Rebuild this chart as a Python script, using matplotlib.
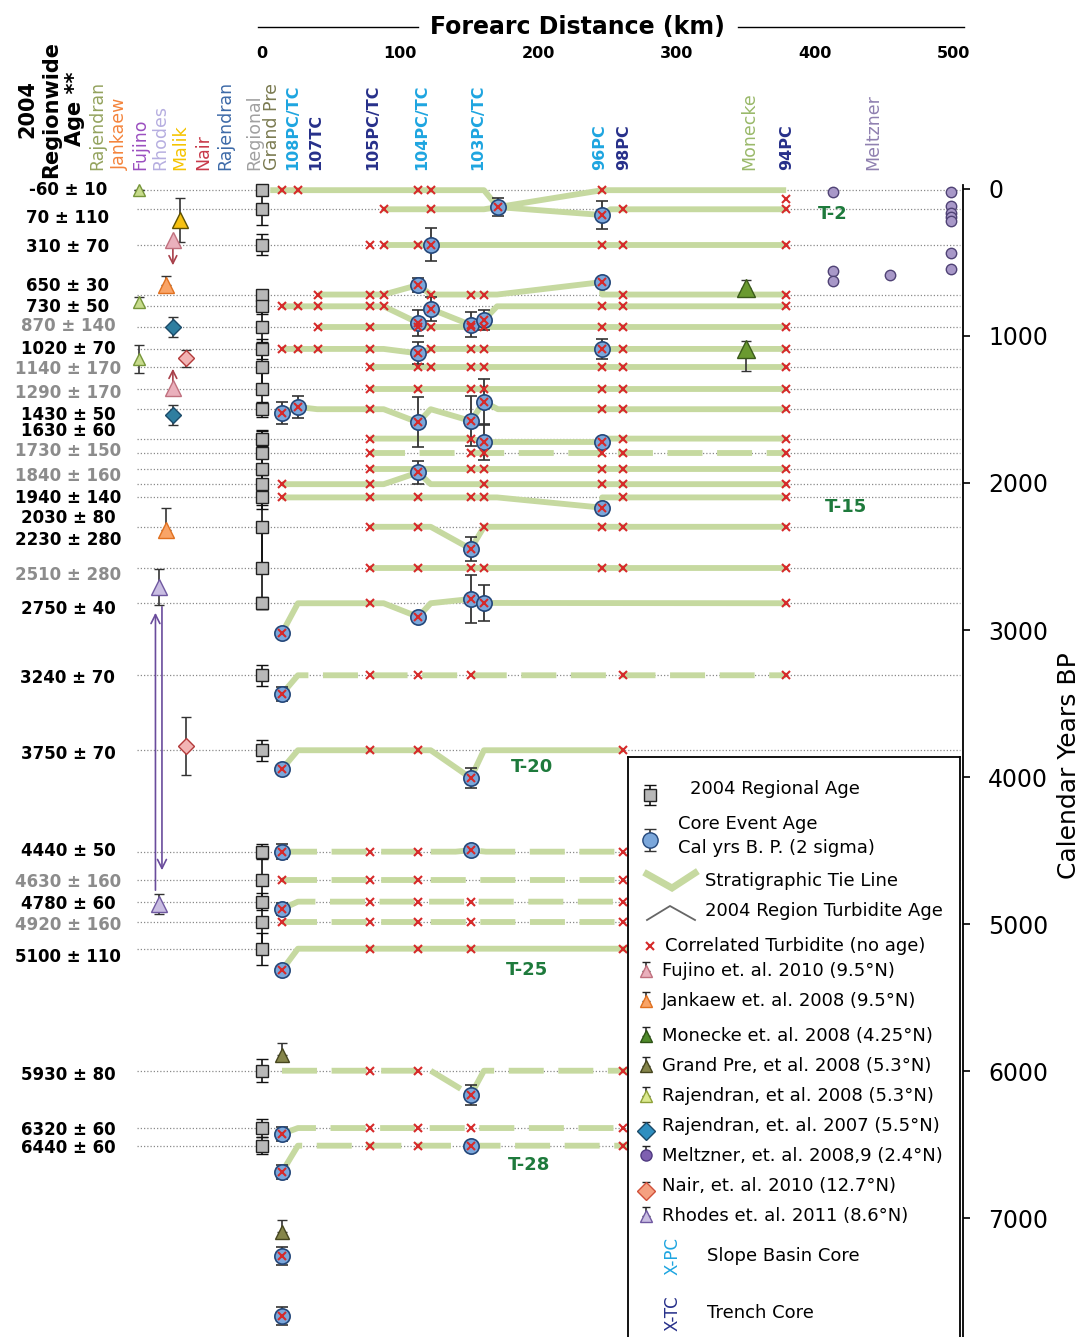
import numpy as np
import matplotlib.pyplot as plt

# 2004 regionwide ages (cal yrs BP) with their +/- values
row_age = [-60, 70, 310, 650, 730, 870, 1020, 1140, 1290, 1430, 1630, 1730, 1840, 1940,
           2030, 2230, 2510, 2750, 3240, 3750, 4440, 4630, 4780, 4920, 5100, 5930, 6320, 6440]
row_err = [10, 110, 70, 30, 50, 140, 70, 170, 170, 50, 60, 150, 160, 140,
           80, 280, 280, 40, 70, 70, 50, 160, 60, 160, 110, 80, 60, 60]
row_gray = [870, 1140, 1290, 1730, 1840, 2510, 4630, 4920]
# where each age label sits (spread out where rows are crowded)
label_age = [-61, 129, 327, 592, 735, 864, 1020, 1156, 1320, 1469, 1578, 1714, 1884, 2034,
             2170, 2320, 2558, 2789, 3259, 3776, 4435, 4646, 4796, 4939, 5156, 5959, 6333, 6456]

# correlated turbidites with no age: row -> core distances (km)
no_age = {
    -60: [14.5, 26, 113, 122, 246],
    70: [88, 122, 261, 379],
    310: [78, 88, 113, 246, 261, 379],
    650: [40.5, 78, 88, 122, 151, 160.5, 261, 379],
    730: [14.5, 26, 40.5, 78, 88, 246, 261, 379],
    870: [40.5, 78, 113, 122, 151, 160.5, 246, 261, 379],
    1020: [14.5, 26, 40.5, 78, 122, 151, 160.5, 261, 379],
    1140: [78, 113, 122, 151, 160.5, 246, 261, 379],
    1290: [78, 113, 151, 160.5, 246, 261, 379],
    1430: [78, 246, 261, 379],
    1630: [78, 151, 261, 379],
    1730: [78, 151, 160.5, 246, 261, 379],
    1840: [78, 151, 160.5, 246, 261, 379],
    1940: [14.5, 78, 160.5, 246, 261, 379],
    2030: [14.5, 78, 113, 151, 160.5, 261, 379],
    2230: [78, 113, 160.5, 246, 261, 379],
    2510: [78, 113, 151, 160.5, 246, 261, 379],
    2750: [78, 379],
    3240: [78, 113, 151, 261, 379],
    3750: [78, 113, 261],
    4440: [78, 113, 261, 379],
    4630: [14.5, 78, 113, 261, 379],
    4780: [78, 113, 151, 261, 379],
    4920: [14.5, 78, 113, 151, 261, 379],
    5100: [78, 113, 151, 261, 379],
    5930: [78, 113, 261, 379],
    6320: [78, 113, 151, 261, 379],
    6440: [78, 113, 261, 379],
}
extra_no_age = [(379, 0)]

# core event ages: (km, age, 2 sigma)
core_events = [
    (170.6, 55, 60), (246, 109, 95), (122, 310, 110),
    (113, 585, 50), (246, 565, 0),
    (113, 843, 90), (122, 748, 80), (151, 857, 85), (160.5, 823, 70),
    (113, 1050, 75), (246, 1020, 70),
    (14.5, 1455, 75), (26, 1415, 75), (113, 1520, 170), (151, 1510, 170), (160.5, 1380, 155),
    (160.5, 1653, 120), (246, 1653, 0), (113, 1860, 80), (246, 2100, 0),
    (151, 2381, 80),
    (14.5, 2952, 0), (113, 2843, 0), (151, 2721, 160), (160.5, 2748, 120),
    (14.5, 3367, 50), (14.5, 3878, 0), (151, 3939, 70),
    (14.5, 4440, 50), (151, 4430, 30), (14.5, 4830, 40), (14.5, 5245, 0),
    (151, 6095, 70), (14.5, 6360, 50), (14.5, 6619, 50), (151, 6440, 0),
    (14.5, 7190, 60), (14.5, 7599, 60),
]

# stratigraphic tie lines: (dashed, [(km, age), ...])
ties = [
    (False, [(6, -60), (160.5, -60), (170.6, 55), (246, -60), (379, -60)]),
    (False, [(88, 70), (160.5, 70), (170.6, 55), (246, 109), (252, 70), (379, 70)]),
    (False, [(88, 310), (379, 310)]),
    (False, [(40.5, 650), (88, 650), (113, 585), (122, 650), (170, 650), (246, 565), (246, 650), (379, 650)]),
    (False, [(14.5, 730), (88, 730), (113, 843)]),
    (False, [(122, 748), (151, 857), (160.5, 823), (170, 730), (379, 730)]),
    (False, [(40.5, 870), (379, 870)]),
    (False, [(14.5, 1020), (88, 1020), (113, 1050), (122, 1020), (379, 1020)]),
    (False, [(78, 1140), (379, 1140)]),
    (False, [(78, 1290), (379, 1290)]),
    (False, [(14.5, 1455), (26, 1415), (40, 1430), (88, 1430), (113, 1520), (122, 1430),
             (151, 1510), (160.5, 1380), (170.6, 1430), (379, 1430)]),
    (False, [(78, 1630), (151, 1630), (160.5, 1653), (246, 1653), (250, 1630), (379, 1630)]),
    (True, [(78, 1730), (379, 1730)]),
    (False, [(78, 1840), (379, 1840)]),
    (False, [(14.5, 1940), (88, 1940), (113, 1860), (122, 1940), (379, 1940)]),
    (False, [(14.5, 2030), (170, 2030), (246, 2100), (246, 2030), (379, 2030)]),
    (False, [(78, 2230), (122, 2230), (151, 2381), (160.5, 2230), (379, 2230)]),
    (False, [(78, 2510), (379, 2510)]),
    (False, [(14.5, 2952), (26, 2750), (88, 2750), (113, 2843), (122, 2750), (151, 2721),
             (160.5, 2748), (379, 2750)]),
    (True, [(14.5, 3367), (26, 3240), (379, 3240)]),
    (False, [(14.5, 3878), (26, 3750), (122, 3750), (151, 3939), (160.5, 3750), (261, 3750)]),
    (True, [(14.5, 4440), (140, 4440), (151, 4430), (162, 4440), (379, 4440)]),
    (True, [(14.5, 4630), (379, 4630)]),
    (True, [(14.5, 4830), (26, 4780), (379, 4780)]),
    (True, [(14.5, 4920), (379, 4920)]),
    (False, [(14.5, 5245), (26, 5100), (379, 5100)]),
    (True, [(14.5, 5930), (122, 5930), (151, 6095), (160.5, 5930), (379, 5930)]),
    (True, [(14.5, 6360), (26, 6320), (379, 6320)]),
    (True, [(14.5, 6619), (26, 6440), (379, 6440)]),
]

# onshore / other studies
rajendran08_age, rajendran08_err = [-60, 700, 1088], [0, 30, 95]
malik_age, malik_err = [140], [150]
fujino_age, fujino_arrow_to = [279, 1286], [470, 1136]
jankaew_age, jankaew_err = [585, 2252], [60, 150]
rajendran07_age, rajendran07_err = [870, 1469], [70, 70]
nair_age, nair_err = [1082, 3721], [58, 200]
rhodes_age, rhodes_err = [2639, 4796], [125, 70]
monecke_age, monecke_err_lo, monecke_err_hi = [605, 1020], [55, 54], [0, 150]
grandpre_age, grandpre_err = [5823, 7027], [80, 80]
meltzner_km = [413, 413, 413, 454, 498, 498, 498, 498, 498, 498, 498]
meltzner_age = [-48, 490, 558, 517, -48, 48, 95, 122, 150, 367, 476]

tlabels = [('T-2', 402, 102), ('T-15', 407, 2095), ('T-20', 180, 3864),
           ('T-25', 176, 5245), ('T-28', 178, 6571)]

GREEN = '#c6d9a0'
RED = '#d62a2a'

fig = plt.figure(figsize=(10.86, 13.37), dpi=100)
ax = fig.add_axes([0, 0, 1, 1])
ax.set_xlim(-189.4, 595.8)
ax.set_ylim(7741.5, -1353.7)
ax.patch.set_alpha(0)

# dotted row guides and labels
ax.hlines(row_age, -90, 505, colors='#8a8a8a', linestyles=(0, (1, 1.6)), lw=0.9, zorder=1)
for a, e, la in zip(row_age, row_err, label_age):
    ax.text(-140.3, la, f'{a} \u00b1 {e}', ha='center', va='center', fontsize=12,
            fontweight='bold', color='#8c8c8c' if a in row_gray else 'black')

# tie lines
for dashed, pts in ties:
    km, age = zip(*pts)
    ax.plot(km, age, color=GREEN, lw=4.2, ls=(0, (6, 2.5)) if dashed else '-',
            solid_capstyle='butt', solid_joinstyle='round', zorder=2)

# regional ages
ax.errorbar(np.zeros(len(row_age)), row_age, yerr=row_err, fmt='s', ms=8, mfc='#b8b8b8',
            mec='#222222', mew=1, ecolor='#111111', elinewidth=1.2, capsize=4, zorder=5)

# core event ages
ce_km, ce_age, ce_err = zip(*core_events)
ax.errorbar(ce_km, ce_age, yerr=ce_err, fmt='o', ms=11, mfc='#7ba7db', mec='#24477a',
            mew=1.2, ecolor='#333333', elinewidth=1.3, capsize=4, zorder=6)

# correlated turbidites
nx, ny = [], []
for a, kms in no_age.items():
    nx += kms
    ny += [a] * len(kms)
for k, a in extra_no_age:
    nx.append(k)
    ny.append(a)
ax.plot(nx + list(ce_km), ny + list(ce_age), 'x', color=RED, ms=6, mew=1.5, zorder=7)

# other studies
def study(x, ages, err, marker, fc, ec, ms=11):
    ax.errorbar(np.full(len(ages), x), ages, yerr=err, fmt=marker, ms=ms, mfc=fc, mec=ec,
                mew=1, ecolor='#333333', elinewidth=1.2, capsize=3.5, zorder=6)

study(-89, rajendran08_age, rajendran08_err, '^', '#c7db8c', '#76963a', ms=9)
study(-59.3, malik_age, malik_err, '^', '#f6c111', '#5d5000', ms=12)
study(-64.4, fujino_age, None, '^', '#eab0bc', '#c0707e', ms=12)
study(-69.4, jankaew_age, [jankaew_err, [0, 0]], '^', '#f9a467', '#e0701f', ms=11)
study(-64.4, rajendran07_age, rajendran07_err, 'D', '#2f7ea0', '#1b4a68', ms=8.5)
study(-55, nair_age, nair_err, 'D', '#f2b4b4', '#b33a3a', ms=8.5)
study(-74.5, rhodes_age, rhodes_err, '^', '#c9bde2', '#6f58a0', ms=11)
study(350, monecke_age, [monecke_err_lo, monecke_err_hi], '^', '#6a9a30', '#3a5a1a', ms=13)
study(14.5, grandpre_age, [grandpre_err, [0, 0]], '^', '#85854a', '#45451e', ms=10)
ax.plot(meltzner_km, meltzner_age, 'o', ms=7.5, mfc='#a898c8', mec='#4f4275', mew=1, zorder=6)

for a0, a1 in zip(fujino_age, fujino_arrow_to):
    ax.annotate('', xy=(-64.4, a1), xytext=(-64.4, a0),
                arrowprops=dict(arrowstyle='->', color='#a8404a', lw=1.2,
                                mutation_scale=14), zorder=5)
ax.annotate('', xy=(-77, 2796), xytext=(-77, 4721),
            arrowprops=dict(arrowstyle='->', color='#6a4c9c', lw=1.2, mutation_scale=16))
ax.annotate('', xy=(-72.3, 4585), xytext=(-72.3, 2755),
            arrowprops=dict(arrowstyle='->', color='#6a4c9c', lw=1.2, mutation_scale=16))

for t, k, a in tlabels:
    ax.text(k, a, t, color='#1e7a3c', fontsize=13, fontweight='bold', ha='left', va='center')

# column headers
ax.text(-152.6, -612, '2004\nRegionwide\nAge **', rotation=90, ha='center', va='center',
        multialignment='center', fontsize=15, fontweight='bold', linespacing=1.25)
headers = [('Rajendran', -119.3, '#94a35e', 'normal'), ('Jankaew', -102.7, '#f4843c', 'normal'),
           ('Fujino', -88.2, '#9b4fc0', 'normal'), ('Rhodes', -73.8, '#b6aee0', 'normal'),
           ('Malik', -59.3, '#f5c400', 'normal'), ('Nair', -42.7, '#c83a4a', 'normal'),
           ('Rajendran', -26.8, '#3d6aa8', 'normal'), ('Regional', -5.8, '#a0a0a0', 'normal'),
           ('Grand Pre', 7.2, '#7a7a50', 'normal'), ('108PC/TC', 22.4, '#1ea5e0', 'bold'),
           ('107TC', 39, '#27308a', 'bold'), ('105PC/TC', 80.3, '#27308a', 'bold'),
           ('104PC/TC', 115.7, '#1ea5e0', 'bold'), ('103PC/TC', 156.2, '#1ea5e0', 'bold'),
           ('96PC', 244.4, '#1ea5e0', 'bold'), ('98PC', 261.8, '#27308a', 'bold'),
           ('Monecke', 352, '#9ab96a', 'normal'), ('94PC', 379.6, '#27308a', 'bold'),
           ('Meltzner', 441.8, '#8f80b0', 'normal')]
for t, k, c, w in headers:
    ax.text(k, -195, t, rotation=90, ha='center', va='bottom', fontsize=12.5 if w == 'normal' else 11.5,
            color=c, fontweight=w)

for s in ax.spines.values():
    s.set_visible(False)
ax.set_xticks([])
ax.set_yticks([])

# right axis (its scale sits slightly above the row ages, as in the original)
ax2 = ax.twinx()
ax2.set_ylim(7809.5, -1285.7)
for s in ['top', 'left', 'bottom']:
    ax2.spines[s].set_visible(False)
ax2.spines['right'].set_position(('data', 507))
ax2.spines['right'].set_bounds(-27, 7809.5)
ax2.spines['right'].set_linewidth(1.3)
ax2.set_yticks(range(0, 8000, 1000))
ax2.tick_params(axis='y', labelsize=17, length=5, width=1.2, pad=13)
ax2.set_ylabel('Calendar Years BP', fontsize=18, labelpad=6)
ax2.yaxis.label.set_y(1 - 766 / 1337)

# top distance axis
sec = ax.secondary_xaxis(1 - 62 / 1337)
sec.set_xticks(range(0, 600, 100))
sec.tick_params(length=0, pad=1, labelsize=11.5)
plt.setp(sec.get_xticklabels(), fontweight='bold')
for s in sec.spines.values():
    s.set_visible(False)
ax.text(228, -1170, 'Forearc Distance (km)', ha='center', va='center', fontsize=17, fontweight='bold')
ax.plot([-3, 112.8], [-1170, -1170], color='black', lw=1)
ax.plot([344, 507.6], [-1170, -1170], color='black', lw=1)

# legend box
lax = fig.add_axes([628 / 1086, 0, 332 / 1086, 580 / 1337], zorder=10)
lax.set_xlim(0, 332)
lax.set_ylim(580, 0)
lax.set_xticks([])
lax.set_yticks([])
lax.spines['bottom'].set_visible(False)
for s in ['top', 'left', 'right']:
    lax.spines[s].set_linewidth(1.3)

lax.errorbar([22], [38], yerr=[10], fmt='s', ms=8, mfc='#b8b8b8', mec='#222', ecolor='#111',
             capsize=4, elinewidth=1.2)
lax.errorbar([22], [83], yerr=[11], fmt='o', ms=11, mfc='#7ba7db', mec='#24477a', ecolor='#333',
             capsize=4, elinewidth=1.2)
lax.plot([19, 44, 67], [117, 131, 116], color=GREEN, lw=5, solid_joinstyle='miter')
lax.plot([19, 42, 67], [163, 149, 163], color='#666666', lw=1.3)
lax.plot([22], [189], 'x', color=RED, ms=6, mew=1.5)
leg_marks = [('^', '#eab0bc', '#c0707e', 214), ('^', '#f9a467', '#e0701f', 244),
             ('^', '#4f8a2a', '#2c5214', 279), ('^', '#85854a', '#45451e', 309),
             ('^', '#dbe98e', '#8fa23a', 339), ('D', '#2f8fc0', '#1b4a68', 374),
             ('o', '#7e5fb0', '#4f3a80', 398), ('D', '#f5a080', '#d0503a', 434),
             ('^', '#c9bde2', '#6f58a0', 459)]
for m, fc, ec, y in leg_marks:
    lax.errorbar([18], [y], yerr=[[9], [0]], fmt=m, ms=9 if m != 'o' else 8, mfc=fc, mec=ec,
                 ecolor='#222', capsize=3, elinewidth=1.1)
leg_texts = [(62, 32, '2004 Regional Age'), (50, 67, 'Core Event Age'),
             (50, 91, 'Cal yrs B. P. (2 sigma)'), (77, 124, 'Stratigraphic Tie Line'),
             (77, 154, '2004 Region Turbidite Age'), (37, 189, 'Correlated Turbidite (no age)'),
             (34, 214, 'Fujino et. al. 2010 (9.5\u00b0N)'), (34, 244, 'Jankaew et. al. 2008 (9.5\u00b0N)'),
             (34, 279, 'Monecke et. al. 2008 (4.25\u00b0N)'), (34, 309, 'Grand Pre, et al. 2008 (5.3\u00b0N)'),
             (34, 339, 'Rajendran, et al. 2008 (5.3\u00b0N)'), (34, 369, 'Rajendran, et. al. 2007 (5.5\u00b0N)'),
             (34, 399, 'Meltzner, et. al. 2008,9 (2.4\u00b0N)'), (34, 429, 'Nair, et. al. 2010 (12.7\u00b0N)'),
             (34, 459, 'Rhodes et. al. 2011 (8.6\u00b0N)'), (79, 499, 'Slope Basin Core'),
             (79, 556, 'Trench Core')]
for x, y, t in leg_texts:
    lax.text(x, y, t, ha='left', va='center', fontsize=13)
lax.text(45, 499, 'X-PC', rotation=90, ha='center', va='center', fontsize=12, color='#1ea5e0')
lax.text(45, 556, 'X-TC', rotation=90, ha='center', va='center', fontsize=12, color='#27308a')

fig.savefig('out.png', dpi=100)
